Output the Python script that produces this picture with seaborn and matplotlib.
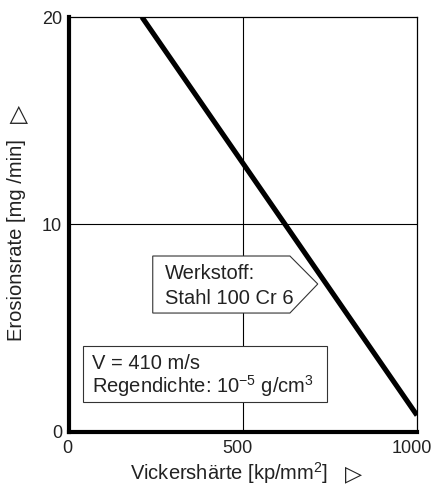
import matplotlib
matplotlib.use("Agg")
import matplotlib.pyplot as plt
from matplotlib.patches import Polygon, Rectangle
from matplotlib.transforms import ScaledTranslation
import seaborn as sns
import pandas as pd

# Erosion rate vs. Vickers hardness (linear trend)
hardness = [210, 1000]          # kp/mm^2
erosion_rate = [20.0, 0.8]      # mg/min

x_ticks = [0, 500, 1000]
y_ticks = [0, 10, 20]

sns.set_theme(style="white")
plt.rcParams["font.family"] = ["Liberation Sans", "DejaVu Sans"]
plt.rcParams["mathtext.fontset"] = "custom"
plt.rcParams["mathtext.rm"] = "Liberation Sans"
plt.rcParams["mathtext.it"] = "Liberation Sans"
plt.rcParams["mathtext.default"] = "regular"

TXT = "#222222"
FS = 14.5
fig = plt.figure(figsize=(4.33, 4.88), dpi=100)
ax = fig.add_axes([0.159, 0.115, 0.804, 0.85])

df = pd.DataFrame({"Vickershärte": hardness, "Erosionsrate": erosion_rate})
sns.lineplot(data=df, x="Vickershärte", y="Erosionsrate", ax=ax,
             color="black", linewidth=3.7, solid_capstyle="butt")

ax.set_xlim(0, 1000)
ax.set_ylim(0, 20)
ax.set_xticks(x_ticks)
ax.set_yticks(y_ticks)
ax.tick_params(axis="both", length=0, labelsize=13, colors=TXT)
ax.tick_params(axis="x", pad=6)
ax.tick_params(axis="y", pad=5)
for lbl, dx in zip(ax.get_xticklabels(), [-2, -5, -5]):
    lbl.set_transform(lbl.get_transform() + ScaledTranslation(dx / 100, 0, fig.dpi_scale_trans))

# inner reference lines at the middle ticks
ax.axvline(500, color="black", linewidth=0.8, zorder=1)
ax.axhline(10, color="black", linewidth=0.8, zorder=1)

for side in ("left", "bottom"):
    ax.spines[side].set_linewidth(3.0)
    ax.spines[side].set_color("black")
for side in ("top", "right"):
    ax.spines[side].set_linewidth(0.9)
    ax.spines[side].set_color("black")

ax.set_xlabel("")
ax.set_ylabel("")

# axis titles with the direction triangles
W, H = 433, 488
fig.text(229 / W, 1 - 473 / H, "Vickershärte [kp/mm$^{2}$]", fontsize=FS,
         color=TXT, ha="center", va="center")
fig.text(354 / W, 1 - 474 / H, "▷", fontsize=16, family="DejaVu Sans",
         color=TXT, ha="center", va="center")
fig.text(17 / W, 1 - 240 / H, "Erosionsrate [mg /min]", fontsize=FS,
         color=TXT, ha="center", va="center", rotation=90)
fig.text(19 / W, 1 - 114 / H, "▷", fontsize=17, family="DejaVu Sans",
         color=TXT, ha="center", va="center", rotation=90)

# material callout pointing to the line
callout = Polygon([(241, 8.48), (635, 8.48), (715, 7.13), (635, 5.73), (241, 5.73)],
                  closed=True, facecolor="white", edgecolor="#333333",
                  linewidth=0.8, zorder=3)
ax.add_patch(callout)
ax.text(276, 7.36, "Werkstoff:", fontsize=FS, color=TXT,
        va="baseline", ha="left", zorder=4)
ax.text(276, 6.15, "Stahl 100 Cr 6", fontsize=FS, color=TXT,
        va="baseline", ha="left", zorder=4)

# test conditions box
cond = Rectangle((40, 1.45), 701, 2.69, facecolor="white", edgecolor="#333333",
                 linewidth=0.8, zorder=3)
ax.add_patch(cond)
ax.text(66, 3.04, "V = 410 m/s", fontsize=FS, color=TXT,
        va="baseline", ha="left", zorder=4)
ax.text(66, 1.88, "Regendichte: 10$^{-5}$ g/cm$^{3}$", fontsize=FS, color=TXT,
        va="baseline", ha="left", zorder=4)

fig.savefig("out.png", dpi=100, facecolor="white")
